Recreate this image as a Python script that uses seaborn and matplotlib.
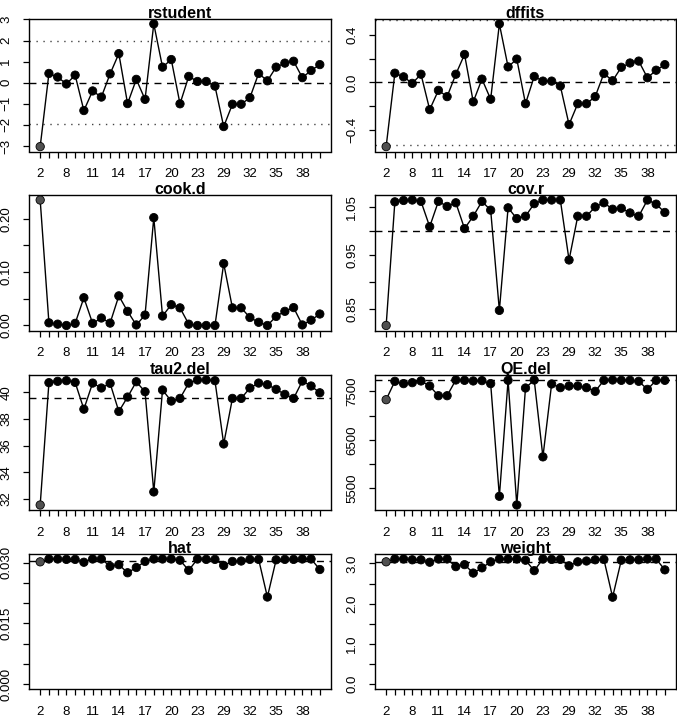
import numpy as np
import pandas as pd
import matplotlib
matplotlib.use("Agg")
import matplotlib.pyplot as plt
import seaborn as sns
from matplotlib.ticker import FixedLocator, FixedFormatter, NullLocator

# ---------------- data ----------------
study = [2, 5, 7, 8, 9, 10, 11, 12, 13, 14, 15, 16, 17, 18, 19, 20, 21,
         22, 23, 25, 27, 29, 30, 31, 32, 33, 34, 35, 36, 37, 38, 39, 40]
influential_study = 2

rstudent = [-3.03, 0.44, 0.27, -0.06, 0.36, -1.32, -0.39, -0.68, 0.42, 1.38,
            -0.99, 0.16, -0.79, 2.79, 0.74, 1.10, -1.00, 0.30, 0.06, 0.06,
            -0.16, -2.08, -1.02, -1.02, -0.71, 0.44, 0.09, 0.74, 0.93, 1.02,
            0.24, 0.58, 0.86]
dffits = [-0.542, 0.078, 0.047, -0.008, 0.069, -0.230, -0.067, -0.120, 0.069,
          0.236, -0.164, 0.028, -0.142, 0.494, 0.131, 0.197, -0.180, 0.050,
          0.011, 0.011, -0.030, -0.356, -0.180, -0.180, -0.120, 0.075, 0.014,
          0.128, 0.164, 0.180, 0.039, 0.103, 0.150]
cook_d = [0.235, 0.005, 0.0025, 0.0, 0.004, 0.052, 0.004, 0.014, 0.0045,
          0.0555, 0.0265, 0.001, 0.0195, 0.202, 0.0177, 0.039, 0.033, 0.0025,
          0.0, 0.0, 0.0, 0.116, 0.033, 0.033, 0.015, 0.006, 0.0, 0.017,
          0.0265, 0.0335, 0.001, 0.010, 0.0215]
cov_r = [0.822, 1.061, 1.064, 1.065, 1.062, 1.008, 1.062, 1.051, 1.059, 1.004,
         1.030, 1.062, 1.043, 0.848, 1.048, 1.025, 1.030, 1.057, 1.065, 1.065,
         1.065, 0.941, 1.030, 1.030, 1.050, 1.059, 1.045, 1.047, 1.037, 1.030,
         1.065, 1.056, 1.038]
tau2_del = [31.55, 40.73, 40.83, 40.88, 40.75, 38.74, 40.70, 40.33, 40.68,
            38.57, 39.65, 40.80, 40.05, 32.53, 40.18, 39.35, 39.55, 40.70,
            40.93, 40.93, 40.88, 36.13, 39.55, 39.55, 40.33, 40.70, 40.58,
            40.23, 39.85, 39.55, 40.85, 40.48, 39.97]
QE_del = [7328, 7707, 7659, 7679, 7714, 7610, 7410, 7410, 7734, 7727, 7714,
          7721, 7659, 5334, 7727, 5155, 7569, 7734, 6148, 7652, 7576, 7610,
          7610, 7576, 7500, 7727, 7734, 7727, 7727, 7707, 7541, 7727, 7727]
hat = [0.0302, 0.0309, 0.0309, 0.0308, 0.0308, 0.0301, 0.0309, 0.0309, 0.0291,
       0.0295, 0.0275, 0.0288, 0.0303, 0.0309, 0.0309, 0.0309, 0.0306, 0.0281,
       0.0309, 0.0308, 0.0308, 0.0293, 0.0303, 0.0304, 0.0308, 0.0308, 0.0215,
       0.0307, 0.0308, 0.0308, 0.0309, 0.0309, 0.0283]
weight = [3.04, 3.11, 3.11, 3.09, 3.09, 3.03, 3.11, 3.11, 2.92, 2.97, 2.76,
          2.89, 3.04, 3.11, 3.11, 3.11, 3.08, 2.82, 3.11, 3.10, 3.10, 2.94,
          3.04, 3.06, 3.09, 3.10, 2.16, 3.08, 3.09, 3.09, 3.11, 3.11, 2.84]

# reference lines
rstudent_cut = 1.96
dffits_cut = 0.5303
tau2_full = 39.6
QE_full = 7734
hat_ref = 1 / 33
weight_ref = 100 / 33

# ---------------- styling ----------------
sns.set_theme(style="white")
plt.rcParams["font.family"] = ["Liberation Sans", "DejaVu Sans"]
plt.rcParams["axes.unicode_minus"] = True

W, H = 677, 719
fig = plt.figure(figsize=(W / 100, H / 100), dpi=100)

pos = np.arange(1, len(study) + 1)
flag = ["infl" if s == influential_study else "ok" for s in study]
xlabels = [str(s) if i % 3 == 0 else "" for i, s in enumerate(study)]

panels = [
    ("rstudent", rstudent, dict(dashed=[0], dotted=[-rstudent_cut, rstudent_cut],
                                ticks=[-3, -2, -1, 0, 1, 2, 3],
                                labels=["\u22123", "\u22122", "\u22121", "0", "1", "2", "3"])),
    ("dffits", dffits, dict(dashed=[0], dotted=[-dffits_cut, dffits_cut],
                            ticks=[-0.4, -0.2, 0.0, 0.2, 0.4],
                            labels=["\u22120.4", "", "0.0", "", "0.4"])),
    ("cook.d", cook_d, dict(dashed=[], dotted=[],
                            ticks=[0, 0.05, 0.10, 0.15, 0.20],
                            labels=["0.00", "", "0.10", "", "0.20"])),
    ("cov.r", cov_r, dict(dashed=[1.0], dotted=[], log=True,
                          ticks=[0.85, 0.90, 0.95, 1.00, 1.05],
                          labels=["0.85", "", "0.95", "", "1.05"])),
    ("tau2.del", tau2_del, dict(dashed=[tau2_full], dotted=[],
                                ticks=[32, 34, 36, 38, 40],
                                labels=["32", "34", "36", "38", "40"])),
    ("QE.del", QE_del, dict(dashed=[QE_full], dotted=[],
                            ticks=[5500, 6000, 6500, 7000, 7500],
                            labels=["5500", "", "6500", "", "7500"])),
    ("hat", hat, dict(dashed=[hat_ref], dotted=[], zero=True,
                      ticks=[0, 0.005, 0.010, 0.015, 0.020, 0.025, 0.030],
                      labels=["0.000", "", "", "0.015", "", "", "0.030"])),
    ("weight", weight, dict(dashed=[weight_ref], dotted=[], zero=True,
                            ticks=[0, 0.5, 1.0, 1.5, 2.0, 2.5, 3.0],
                            labels=["0.0", "", "1.0", "", "2.0", "", "3.0"])),
]

col_x = [(29, 331), (375, 676)]
# box top / bottom in pixels for each row
row_box = [(19, 151.5), (195, 330.5), (375, 510), (554, 689)]

for k, (name, vals, opt) in enumerate(panels):
    r, c = divmod(k, 2)
    x0, x1 = col_x[c]
    top, bot = row_box[r]
    ax = fig.add_axes([x0 / W, 1 - bot / H, (x1 - x0) / W, (bot - top) / H])

    df = pd.DataFrame({"pos": pos, "val": vals, "flag": flag})

    # reference lines
    for yv in opt["dashed"]:
        ax.axhline(yv, color="black", lw=1.0, linestyle=(0, (5, 4)), zorder=1)
    for yv in opt["dotted"]:
        ax.axhline(yv, color="#444444", lw=1.0, linestyle=(0, (1, 4)), zorder=1)

    sns.lineplot(data=df, x="pos", y="val", ax=ax, color="black", lw=1.0,
                 sort=False, estimator=None, zorder=2)
    sns.scatterplot(data=df, x="pos", y="val", hue="flag", ax=ax,
                    palette={"ok": "black", "infl": "#505050"},
                    edgecolor="black", linewidth=0.6, s=36, legend=False,
                    zorder=3)

    # limits (R style 4% extension)
    n = len(vals)
    ext = 0.04 * (n - 1)
    ax.set_xlim(1 - ext, n + ext)
    lo = 0.0 if opt.get("zero") else min(vals)
    hi = max(vals)
    if opt.get("log"):
        ax.set_yscale("log")
        llo, lhi = np.log(lo), np.log(hi)
        e = 0.04 * (lhi - llo)
        ax.set_ylim(np.exp(llo - e), np.exp(lhi + e))
    else:
        e = 0.04 * (hi - lo)
        ax.set_ylim(lo - e, hi + e)

    ax.yaxis.set_major_locator(FixedLocator(opt["ticks"]))
    ax.yaxis.set_major_formatter(FixedFormatter(opt["labels"]))
    ax.yaxis.set_minor_locator(NullLocator())
    ax.set_xticks(pos)
    ax.set_xticklabels(xlabels)
    ax.xaxis.set_minor_locator(NullLocator())

    ax.set_xlabel("")
    ax.set_ylabel("")
    ax.set_title(name, fontsize=11.5, fontweight="bold", pad=0.5, color="black")

    for sp in ax.spines.values():
        sp.set_visible(True)
        sp.set_color("black")
        sp.set_linewidth(1.0)

    ax.tick_params(axis="both", which="major", direction="out", length=4.5,
                   width=0.9, color="black", labelsize=9.5, labelcolor="black",
                   bottom=True, left=True)
    ax.tick_params(axis="x", pad=7.5)
    ax.tick_params(axis="y", pad=7.5)
    for lab in ax.get_yticklabels():
        lab.set_rotation(90)
        lab.set_va("center")
        lab.set_ha("right")
    ax.grid(False)
    ax.set_facecolor("white")

fig.savefig("out.png", dpi=100, facecolor="white")
